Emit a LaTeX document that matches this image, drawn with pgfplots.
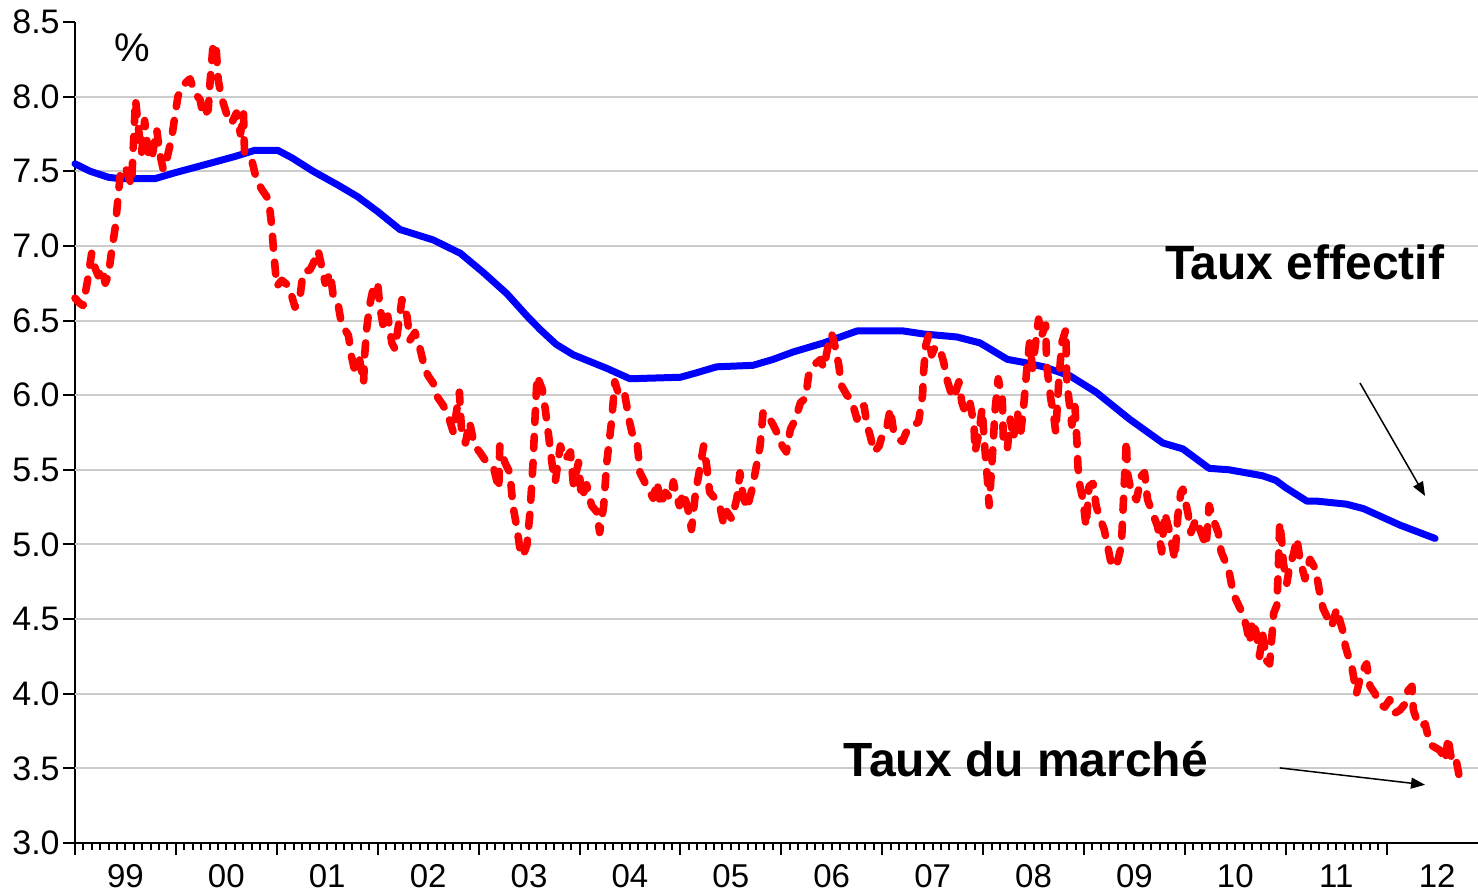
\documentclass[border=0pt]{standalone}
\usepackage{fontspec}
\setmainfont{Liberation Sans}
\usepackage{pgfplots}
\pgfplotsset{compat=1.18}
\usetikzlibrary{arrows.meta}

\begin{document}
\begin{tikzpicture}
\begin{axis}[
  name=ax, at={(0,0)}, anchor=south west,
  scale only axis, width=701.5bp, height=410.5bp,
  xmin=1999, xmax=2012.905, ymin=3, ymax=8.5,
  axis lines=left, axis line style={-, line width=1bp, black},
  clip=false,
  tick align=outside,
  xtick={1999,2000,2001,2002,2003,2004,2005,2006,2007,2008,2009,2010,2011,2012},
  xticklabels={},
  minor x tick num=11,
  major tick length=6bp, minor tick length=3.5bp,
  tick style={black, line width=1bp},
  ytick={3,3.5,4,4.5,5,5.5,6,6.5,7,7.5,8,8.5},
  /pgf/number format/assume math mode=true,
  ticklabel style={font=\fontsize{17bp}{20bp}\selectfont},
  yticklabel style={/pgf/number format/fixed, /pgf/number format/fixed zerofill, /pgf/number format/precision=1, inner sep=0pt, xshift=-1.5bp},
  extra x ticks={1999.5,2000.5,2001.5,2002.5,2003.5,2004.5,2005.5,2006.5,2007.5,2008.5,2009.5,2010.5,2011.5,2012.5},
  extra x tick labels={99,00,01,02,03,04,05,06,07,08,09,10,11,12},
  extra x tick style={major tick length=0pt, tick style={draw=none}, xticklabel style={inner sep=0pt, yshift=-10.5bp, font=\fontsize{16.5bp}{19bp}\selectfont}},
  extra y ticks={3.5,4,4.5,5,5.5,6,6.5,7,7.5,8},
  extra y tick labels={},
  extra y tick style={grid=major, major tick length=0pt, tick style={draw=none}},
  major grid style={line width=1bp, color=black!20},
]
\addplot[blue, line width=3.5bp, line join=round, line cap=round] coordinates {
(1999.00,7.55) (1999.15,7.50) (1999.33,7.46) (1999.45,7.45) (1999.79,7.45)
(1999.99,7.49) (2000.32,7.55) (2000.59,7.60) (2000.78,7.64) (2001.01,7.64)
(2001.15,7.59) (2001.36,7.50) (2001.60,7.41) (2001.80,7.33) (2002.00,7.23)
(2002.22,7.11) (2002.55,7.04) (2002.82,6.95) (2003.05,6.82) (2003.28,6.68)
(2003.48,6.53) (2003.61,6.44) (2003.77,6.34) (2003.94,6.27) (2004.27,6.18)
(2004.50,6.11) (2005.00,6.12) (2005.16,6.15) (2005.36,6.19) (2005.72,6.20)
(2005.92,6.24) (2006.12,6.29) (2006.42,6.35) (2006.75,6.43) (2007.21,6.43)
(2007.41,6.41) (2007.74,6.39) (2007.97,6.35) (2008.24,6.24) (2008.40,6.22)
(2008.60,6.19) (2008.86,6.13) (2009.12,6.02) (2009.45,5.84) (2009.78,5.68)
(2009.98,5.64) (2010.24,5.51) (2010.44,5.50) (2010.77,5.46) (2010.90,5.43)
(2011.00,5.38) (2011.21,5.29) (2011.31,5.29) (2011.60,5.27) (2011.77,5.24)
(2012.13,5.13) (2012.48,5.04)
};
\addplot[red, line width=3.8bp, line join=round, line cap=round, dash pattern=on 6bp off 7bp] coordinates {
(1999.00,6.65) (1999.04,6.62) (1999.08,6.60) (1999.12,6.75) (1999.165,6.95)
(1999.20,6.85) (1999.23,6.80) (1999.27,6.85) (1999.30,6.75) (1999.33,6.80)
(1999.36,6.95) (1999.40,7.13) (1999.43,7.35) (1999.45,7.49) (1999.50,7.53)
(1999.53,7.46) (1999.56,7.41) (1999.60,7.98) (1999.63,7.78) (1999.66,7.62)
(1999.69,7.84) (1999.73,7.60) (1999.76,7.58) (1999.81,7.78) (1999.84,7.62)
(1999.875,7.51) (1999.91,7.58) (1999.96,7.73) (1999.99,7.87) (2000.02,8.00)
(2000.06,8.07) (2000.14,8.12) (2000.19,8.02) (2000.24,7.98) (2000.27,7.87)
(2000.32,7.91) (2000.34,8.11) (2000.37,8.36) (2000.40,8.31) (2000.42,8.11)
(2000.45,8.00) (2000.50,7.89) (2000.55,7.82) (2000.60,7.89) (2000.64,7.75)
(2000.67,7.89) (2000.68,7.62) (2000.75,7.58) (2000.80,7.44) (2000.85,7.38)
(2000.92,7.31) (2000.95,7.13) (2000.97,6.95) (2001.00,6.73) (2001.05,6.77)
(2001.12,6.73) (2001.18,6.59) (2001.23,6.66) (2001.26,6.82) (2001.33,6.84)
(2001.38,6.91) (2001.41,6.97) (2001.445,6.86) (2001.48,6.75) (2001.53,6.82)
(2001.56,6.66) (2001.61,6.60) (2001.64,6.48) (2001.71,6.40) (2001.74,6.26)
(2001.77,6.17) (2001.82,6.24) (2001.86,6.08) (2001.87,6.26) (2001.89,6.44)
(2001.92,6.60) (2001.96,6.73) (2002.00,6.75) (2002.02,6.60) (2002.06,6.44)
(2002.10,6.53) (2002.14,6.35) (2002.17,6.31) (2002.20,6.44) (2002.24,6.64)
(2002.29,6.53) (2002.32,6.37) (2002.37,6.42) (2002.42,6.31) (2002.47,6.17)
(2002.50,6.13) (2002.55,6.08) (2002.58,6.00) (2002.65,5.93) (2002.70,5.86)
(2002.75,5.75) (2002.81,6.02) (2002.83,5.77) (2002.87,5.68) (2002.91,5.82)
(2002.96,5.66) (2003.01,5.62) (2003.08,5.55) (2003.15,5.51) (2003.20,5.37)
(2003.21,5.66) (2003.26,5.55) (2003.31,5.48) (2003.34,5.26) (2003.38,5.11)
(2003.41,4.97) (2003.44,4.92) (2003.48,5.00) (2003.51,5.22) (2003.54,5.55)
(2003.56,5.86) (2003.58,6.13) (2003.63,6.04) (2003.66,5.91) (2003.69,5.75)
(2003.73,5.53) (2003.76,5.42) (2003.81,5.66) (2003.86,5.57) (2003.91,5.62)
(2003.94,5.40) (2003.99,5.55) (2004.02,5.31) (2004.07,5.40) (2004.12,5.26)
(2004.17,5.22) (2004.20,5.08) (2004.24,5.26) (2004.27,5.55) (2004.29,5.66)
(2004.32,5.84) (2004.35,6.09) (2004.40,5.98) (2004.45,6.00) (2004.49,5.84)
(2004.52,5.75) (2004.57,5.69) (2004.60,5.48) (2004.63,5.44) (2004.68,5.37)
(2004.73,5.31) (2004.77,5.42) (2004.80,5.26) (2004.85,5.35) (2004.90,5.31)
(2004.93,5.42) (2004.96,5.33) (2004.99,5.26) (2005.03,5.35) (2005.08,5.22)
(2005.11,5.10) (2005.15,5.35) (2005.18,5.46) (2005.23,5.66) (2005.26,5.53)
(2005.29,5.35) (2005.34,5.31) (2005.39,5.26) (2005.43,5.13) (2005.46,5.22)
(2005.51,5.17) (2005.56,5.31) (2005.59,5.48) (2005.62,5.33) (2005.66,5.24)
(2005.71,5.37) (2005.76,5.55) (2005.79,5.66) (2005.82,5.89) (2005.87,5.86)
(2005.92,5.80) (2005.97,5.73) (2006.01,5.66) (2006.05,5.62) (2006.09,5.77)
(2006.14,5.84) (2006.19,5.95) (2006.24,5.98) (2006.27,6.13) (2006.32,6.20)
(2006.39,6.24) (2006.42,6.18) (2006.47,6.35) (2006.50,6.41) (2006.54,6.31)
(2006.57,6.20) (2006.59,6.09) (2006.60,6.06) (2006.65,6.00) (2006.68,5.98)
(2006.72,5.91) (2006.75,5.84) (2006.78,5.91) (2006.82,5.93) (2006.85,5.80)
(2006.88,5.73) (2006.92,5.62) (2006.97,5.66) (2007.00,5.73) (2007.05,5.80)
(2007.08,5.91) (2007.11,5.77) (2007.15,5.71) (2007.20,5.69) (2007.25,5.77)
(2007.31,5.80) (2007.36,5.82) (2007.40,6.00) (2007.41,6.15) (2007.43,6.33)
(2007.46,6.40) (2007.49,6.27) (2007.53,6.33) (2007.58,6.29) (2007.61,6.22)
(2007.64,6.11) (2007.68,6.02) (2007.71,5.98) (2007.76,6.09) (2007.79,5.95)
(2007.82,5.89) (2007.87,5.95) (2007.91,5.80) (2007.92,5.62) (2007.96,5.75)
(2007.99,5.91) (2008.02,5.62) (2008.04,5.46) (2008.06,5.26) (2008.09,5.57)
(2008.12,5.91) (2008.15,6.11) (2008.19,5.98) (2008.20,5.71) (2008.24,5.64)
(2008.27,5.84) (2008.30,5.71) (2008.34,5.89) (2008.37,5.73) (2008.40,5.91)
(2008.43,6.15) (2008.46,6.35) (2008.49,6.18) (2008.52,6.35) (2008.55,6.51)
(2008.58,6.40) (2008.62,6.47) (2008.63,6.20) (2008.67,5.98) (2008.70,5.86)
(2008.72,5.75) (2008.75,6.09) (2008.78,6.35) (2008.82,6.44) (2008.83,6.09)
(2008.88,5.80) (2008.91,5.93) (2008.93,5.69) (2008.94,5.52) (2008.96,5.39)
(2008.99,5.30) (2009.02,5.12) (2009.05,5.39) (2009.09,5.41) (2009.12,5.26)
(2009.15,5.19) (2009.20,5.10) (2009.24,4.97) (2009.27,4.87) (2009.32,4.85)
(2009.37,4.99) (2009.39,5.28) (2009.42,5.70) (2009.43,5.48) (2009.47,5.35)
(2009.52,5.30) (2009.57,5.46) (2009.60,5.48) (2009.63,5.30) (2009.68,5.21)
(2009.73,5.12) (2009.77,4.95) (2009.80,5.21) (2009.85,5.08) (2009.90,4.90)
(2009.93,5.19) (2009.96,5.35) (2009.98,5.37) (2010.03,5.21) (2010.06,5.08)
(2010.11,5.17) (2010.16,5.08) (2010.21,4.99) (2010.24,5.26) (2010.28,5.17)
(2010.33,5.08) (2010.36,4.95) (2010.41,4.87) (2010.44,4.81) (2010.48,4.67)
(2010.52,4.61) (2010.57,4.54) (2010.61,4.45) (2010.64,4.34) (2010.67,4.49)
(2010.71,4.40) (2010.74,4.25) (2010.77,4.40) (2010.81,4.22) (2010.84,4.20)
(2010.87,4.45) (2010.88,4.54) (2010.91,4.59) (2010.925,4.81) (2010.94,5.15)
(2010.96,5.02) (2010.975,4.88) (2011.01,4.74) (2011.04,4.86) (2011.075,4.93)
(2011.11,5.04) (2011.14,4.90) (2011.19,4.77) (2011.24,4.90) (2011.29,4.84)
(2011.32,4.74) (2011.34,4.66) (2011.37,4.57) (2011.42,4.50) (2011.455,4.45)
(2011.505,4.57) (2011.54,4.48) (2011.57,4.41) (2011.59,4.32) (2011.62,4.25)
(2011.65,4.20) (2011.70,4.00) (2011.75,4.14) (2011.80,4.20) (2011.835,4.05)
(2011.885,4.00) (2011.93,3.93) (2011.98,3.91) (2012.03,3.96) (2012.08,3.87)
(2012.13,3.89) (2012.18,3.93) (2012.21,4.02) (2012.25,4.05) (2012.265,3.89)
(2012.30,3.82) (2012.35,3.78) (2012.38,3.80) (2012.43,3.66) (2012.48,3.64)
(2012.53,3.62) (2012.58,3.55) (2012.61,3.71) (2012.63,3.60) (2012.66,3.53)
(2012.69,3.55) (2012.71,3.48) (2012.73,3.39)
};
\node[anchor=base west, inner sep=0pt, font=\bfseries\fontsize{24bp}{28bp}\selectfont] at (axis cs:2009.80,6.772) {Taux effectif};
\node[anchor=base west, inner sep=0pt, font=\bfseries\fontsize{24bp}{28bp}\selectfont] at (axis cs:2006.61,3.443) {Taux du marché};
\node[inner sep=0pt, font=\fontsize{20bp}{24bp}\selectfont] at (axis cs:1999.565,8.326) {\%};
\draw[black, line width=0.75bp, -{Triangle[length=7bp,width=5.5bp]}] (axis cs:2011.735,6.082) -- (axis cs:2012.38,5.325);
\draw[black, line width=0.75bp, -{Triangle[length=7bp,width=5.5bp]}] (axis cs:2010.94,3.503) -- (axis cs:2012.38,3.39);
\end{axis}
\pgfresetboundingbox
\path[use as bounding box] (-37.5bp,-25.5bp) rectangle (701.5bp,421.5bp);
\end{tikzpicture}
\end{document}
